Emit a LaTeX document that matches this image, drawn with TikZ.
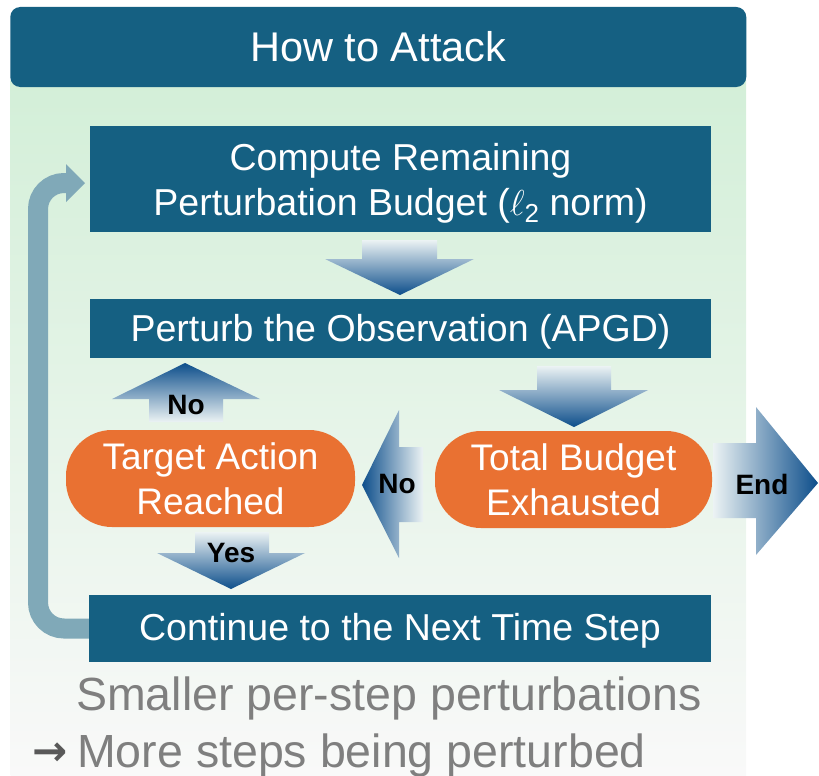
\documentclass[tikz,border=0pt]{standalone}
\usepackage{fontspec}
\setmainfont{Liberation Sans}
\newfontfamily\notefont{Liberation Sans}
\newfontfamily\symfont{DejaVu Sans}
\definecolor{boxblue}{HTML}{156082}
\definecolor{boxorange}{HTML}{E97132}
\definecolor{arrlight}{HTML}{ECF3F4}
\definecolor{arrmid}{HTML}{9DBAD0}
\definecolor{arrdark}{HTML}{0D4E8B}
\definecolor{loopcol}{HTML}{80A9B8}
\definecolor{paneltop}{HTML}{D3EFD8}
\definecolor{panelmid}{HTML}{E8F0EE}
\definecolor{panelbot}{HTML}{F9F9F9}
\definecolor{greytext}{HTML}{7F7F7F}
\definecolor{arrowgrey}{HTML}{595959}
\begin{document}
\begin{tikzpicture}[x=1pt,y=-1pt,
  flowbox/.style={fill=boxblue, text=white, font=\fontsize{37.5}{45}\selectfont, align=center, inner sep=0pt},
  decision/.style={fill=boxorange, text=white, rounded corners=46pt, font=\fontsize{37}{45}\selectfont, align=center, inner sep=0pt, minimum height=97pt},
  lbl/.style={font=\bfseries\fontsize{28}{28}\selectfont, text=black, inner sep=0pt},
  downarrow/.style={top color=arrlight, middle color=arrmid, bottom color=arrdark},
  uparrow/.style={top color=arrdark, middle color=arrmid, bottom color=arrlight},
  leftarrow/.style={left color=arrdark, middle color=arrmid, right color=arrlight},
  rightarrow/.style={left color=arrlight, middle color=arrmid, right color=arrdark},
  note/.style={anchor=base west, inner sep=0pt, text=greytext, font=\notefont\fontsize{46.5}{46.5}\selectfont},
]
\useasboundingbox (0,0) rectangle (819,776);

% background panel
\shade[top color=paneltop, middle color=panelmid, bottom color=panelbot] (10.5,80) rectangle (746,776);

% title
\node[fill=boxblue, rounded corners=10pt, minimum width=736pt, minimum height=80pt, text=white,
      font=\fontsize{41.5}{41.5}\selectfont, inner sep=0pt] (title) at (378.25,47) {How to Attack};

% loop connector
\draw[loopcol, line width=20pt, rounded corners=26pt] (89,628.5) -- (38,628.5) -- (38,183) -- (66.5,183);
\fill[loopcol] (66,164) -- (85,183) -- (66,202) -- cycle;

% boxes
\node[flowbox, minimum width=621pt, minimum height=106pt] (compute) at (400.5,179) {};
\node[text=white, font=\fontsize{37.5}{45}\selectfont, align=center, inner sep=0pt] (computetxt) at (400.5,183)
  {Compute Remaining\\Perturbation Budget (\scalebox{1.45}{$\ell$}\raisebox{-7pt}{\fontsize{26}{26}\selectfont 2} norm)};
\node[flowbox, minimum width=621pt, minimum height=59pt, text depth=2pt] (perturb) at (400.5,328.5)
  {Perturb the Observation (APGD)};
\node[flowbox, minimum width=622pt, minimum height=67pt, text depth=3pt] (continue) at (400,628.5)
  {Continue to the Next Time Step};

\node[decision, minimum width=289pt] (target) at (210.5,478.5) {Target Action\\Reached};
\node[decision, minimum width=277pt] (total) at (573.5,479.5) {Total Budget\\Exhausted};

% block arrows
\shade[downarrow] (362,240) -- (437,240) -- (437,259) -- (474,259) -- (400,295) -- (325,259) -- (362,259) -- cycle;
\shade[downarrow] (537,366) -- (611,366) -- (611,390) -- (648,390) -- (574,427) -- (499,390) -- (537,390) -- cycle;
\shade[uparrow] (149,422) -- (223,422) -- (223,399) -- (260,399) -- (185,363) -- (112,399) -- (149,399) -- cycle;
\shade[downarrow] (195,532) -- (269,532) -- (269,553) -- (305,553) -- (231,589) -- (157,553) -- (195,553) -- cycle;
\shade[leftarrow] (423,447) -- (423,522) -- (399,522) -- (399,558) -- (362,485) -- (399,410) -- (399,447) -- cycle;
\shade[rightarrow] (713,443) -- (756,443) -- (756,407) -- (818,483) -- (756,555) -- (756,518) -- (713,518) -- cycle;

% labels
\node[lbl] (no1) at (186,405) {No};
\node[lbl] (yes) at (231,553) {Yes};
\node[lbl] (no2) at (397,484) {No};
\node[lbl] (endl) at (762,484) {End};

% bottom note
\node[note] (note1) at (76,710) {Smaller per-step perturbations};
\node[note] (note2) at (77,767) {More steps being perturbed};
\node[text=arrowgrey, font=\symfont\bfseries\fontsize{42}{42}\selectfont, inner sep=0pt, anchor=base] (arr) at (50,765) {→};
\end{tikzpicture}
\end{document}
